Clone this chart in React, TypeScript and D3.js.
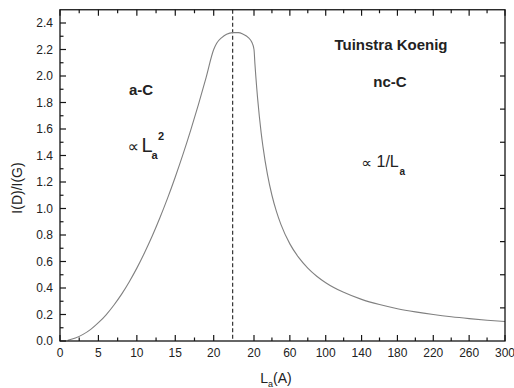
import React from "react";
import * as d3 from "d3";

// amorphous-carbon branch, La in Å (0–20 section of the axis)
const aCLength = [1, 2, 3, 4, 5, 6, 7, 8, 9, 10, 11, 12, 13, 14, 15, 16, 17, 18, 19, 20];
const aCRatio = [0.006, 0.022, 0.05, 0.088, 0.138, 0.198, 0.27, 0.352, 0.446, 0.55, 0.666, 0.792, 0.93, 1.078, 1.238, 1.408, 1.59, 1.782, 1.986, 2.2];

// rounded crossover cap between the two branches (fraction across the gap)
const capPos = [0.074, 0.2, 0.32, 0.47, 0.61, 0.73, 0.86, 0.94];
const capRatio = [2.247, 2.29, 2.315, 2.327, 2.327, 2.315, 2.29, 2.259];

// nanocrystalline branch, La in Å (20–300 section of the axis)
const ncLength = [20, 21, 22, 23, 24, 26, 28, 30, 35, 40, 45, 50, 60, 70, 80, 90, 100, 120, 140, 160, 180, 200, 220, 240, 260, 280, 300];
const ncRatio = [2.2, 2.095, 2.0, 1.913, 1.833, 1.692, 1.571, 1.467, 1.257, 1.1, 0.978, 0.88, 0.733, 0.629, 0.55, 0.489, 0.44, 0.367, 0.314, 0.275, 0.244, 0.22, 0.2, 0.183, 0.169, 0.157, 0.147];

const aCMajor = [0, 5, 10, 15, 20];
const aCMinor = [2.5, 7.5, 12.5, 17.5];
const ncMajor = [20, 60, 100, 140, 180, 220, 260, 300];
const ncMinor = [40, 80, 120, 160, 200, 240, 280];
const yMajor = d3.range(0, 2.41, 0.2);
const yMinor = d3.range(0.1, 2.5, 0.2);
const yRight = d3.range(0.25, 2.3, 0.25);
const crossover = 0.47;

const W = 514;
const H = 388;
const FONT = "Arial, 'Liberation Sans', sans-serif";
const SYMBOL_FONT = "'DejaVu Sans', sans-serif";

export default function App() {
  const xA = d3.scaleLinear().domain([0, 20]).range([60, 213.7]);
  const xMid = d3.scaleLinear().domain([0, 1]).range([213.7, 254]);
  const xB = d3.scaleLinear().domain([20, 300]).range([254, 505]);
  const y = d3.scaleLinear().domain([0, 2.5]).range([341, 9.75]);

  const left = 60, right = 505, top = y(2.5), bottom = y(0);

  const pts: [number, number][] = [
    ...aCLength.map((l, i) => [xA(l), y(aCRatio[i])] as [number, number]),
    ...capPos.map((u, i) => [xMid(u), y(capRatio[i])] as [number, number]),
    ...ncLength.map((l, i) => [xB(l), y(ncRatio[i])] as [number, number]),
  ];
  const path = d3.line().curve(d3.curveMonotoneX)(pts) || "";

  const xTicks: { x: number; major: boolean; label?: string }[] = [
    ...aCMajor.map((v) => ({ x: xA(v), major: true, label: String(v) })),
    ...aCMinor.map((v) => ({ x: xA(v), major: false })),
    ...ncMajor.map((v) => ({ x: xB(v), major: true, label: String(v) })),
    ...ncMinor.map((v) => ({ x: xB(v), major: false })),
  ];

  const axisColor = "#151515";
  const textColor = "#222";

  return (
    <div style={{ position: "absolute", left: 0, top: 0 }}>
      <svg width={W} height={H} style={{ display: "block", background: "#fff" }} fontFamily={FONT}>
        {/* dashed crossover marker */}
        <line x1={xMid(crossover)} x2={xMid(crossover)} y1={top} y2={bottom} stroke="#333" strokeWidth={1.2} strokeDasharray="4,2.5" />

        {/* curve */}
        <path d={path} fill="none" stroke="#808080" strokeWidth={1.1} />

        {/* frame */}
        <rect x={left} y={top} width={right - left} height={bottom - top} fill="none" stroke={axisColor} strokeWidth={1.3} />

        {/* x ticks, bottom and top, pointing inward */}
        {xTicks.map((t, i) => {
          const len = t.major ? 6 : 3.5;
          return (
            <g key={"xt" + i}>
              <line x1={t.x} x2={t.x} y1={bottom} y2={bottom - len} stroke={axisColor} strokeWidth={1.2} />
              <line x1={t.x} x2={t.x} y1={top} y2={top + len} stroke={axisColor} strokeWidth={1.2} />
              {t.label !== undefined && (
                <text x={t.x} y={356.5} textAnchor="middle" fontSize={12} fill={textColor}>
                  {t.label}
                </text>
              )}
            </g>
          );
        })}

        {/* y ticks, left */}
        {yMajor.map((v, i) => (
          <g key={"ym" + i}>
            <line x1={left} x2={left + 6} y1={y(v)} y2={y(v)} stroke={axisColor} strokeWidth={1.2} />
            <text x={53} y={y(v)} dy="0.36em" textAnchor="end" fontSize={12} fill={textColor}>
              {d3.format(".1f")(v)}
            </text>
          </g>
        ))}
        {yMinor.map((v, i) => (
          <line key={"yn" + i} x1={left} x2={left + 3.5} y1={y(v)} y2={y(v)} stroke={axisColor} strokeWidth={1.2} />
        ))}
        {/* y ticks, right */}
        {yRight.map((v, i) => (
          <line key={"yr" + i} x1={right} x2={right - 5} y1={y(v)} y2={y(v)} stroke={axisColor} strokeWidth={1.2} />
        ))}

        {/* axis titles */}
        <text x={17} y={188} transform="rotate(-90 17 188)" textAnchor="middle" dy="0.36em" fontSize={14} fill={textColor}>
          I(D)/I(G)
        </text>
        <text x={276} y={383} textAnchor="middle" fontSize={14} fill={textColor}>
          L<tspan fontSize={9} dy={4}>a</tspan>
          <tspan dy={-4}>(A)</tspan>
        </text>

        {/* annotations */}
        <text x={141} y={94.5} textAnchor="middle" fontSize={15} fontWeight="bold" fill={textColor}>
          a-C
        </text>
        <text x={391} y={50} textAnchor="middle" fontSize={15} fontWeight="bold" fill={textColor}>
          Tuinstra Koenig
        </text>
        <text x={390} y={87} textAnchor="middle" fontSize={15} fontWeight="bold" fill={textColor}>
          nc-C
        </text>

        <text x={127.5} y={151.5} fontSize={16} fontFamily={SYMBOL_FONT} fill={textColor}>∝</text>
        <text x={141.5} y={151.5} fontSize={20} fill={textColor}>L</text>
        <text x={151.5} y={159} fontSize={11} fontWeight="bold" fill={textColor}>a</text>
        <text x={158} y={140} fontSize={11} fontWeight="bold" fill={textColor}>2</text>

        <text x={361.5} y={167.5} fontSize={15} fontFamily={SYMBOL_FONT} fill={textColor}>∝</text>
        <text x={376.5} y={167} fontSize={16} fill={textColor}>1/L</text>
        <text x={399.5} y={175} fontSize={10} fontWeight="bold" fill={textColor}>a</text>
      </svg>
    </div>
  );
}
